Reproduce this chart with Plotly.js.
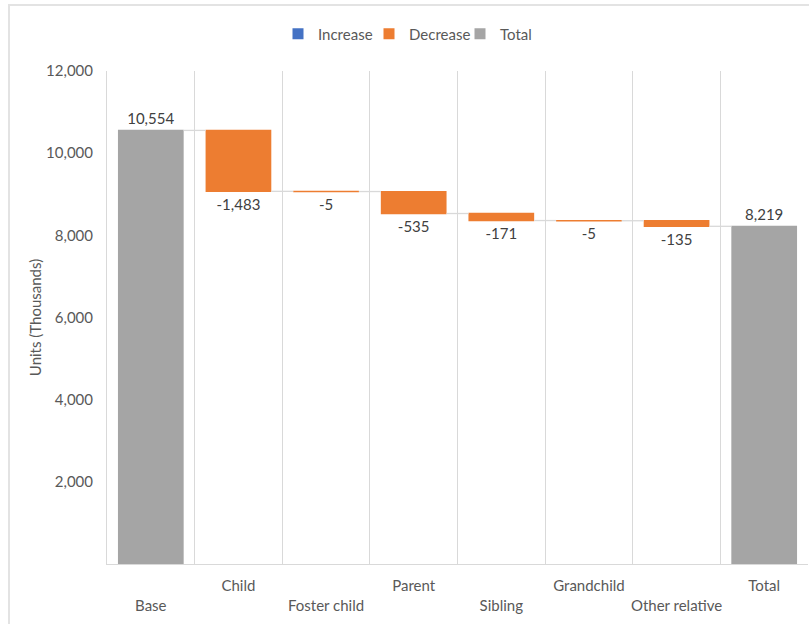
<!DOCTYPE html>
<html>
<head>
<meta charset="utf-8">
<script src="https://cdn.plot.ly/plotly-3.0.1.min.js"></script>
<style>
  html, body { margin: 0; padding: 0; overflow: hidden; background: #fff; }
  #chart { position: absolute; left: 0; top: 0; width: 809px; height: 624px; }
  #frame { position: absolute; left: 8px; top: 4px; width: 900px; height: 700px;
           border: 2px solid #e3e3e3; pointer-events: none; }
</style>
</head>
<body>
<div id="chart"></div>
<div id="frame"></div>
<script>
// ---- data ----
const categories = ["Base", "Child", "Foster child", "Parent", "Sibling", "Grandchild", "Other relative", "Total"];
const values = [10554, -1483, -5, -535, -171, -5, -135, 8219];
const measures = ["absolute", "relative", "relative", "relative", "relative", "relative", "relative", "absolute"];
const legendNames = ["Increase", "Decrease", "Total"];
const legendColors = ["#4472C4", "#ED7D31", "#A5A5A5"];
const yTicks = [2000, 4000, 6000, 8000, 10000, 12000];

const labels = values.map(v => v.toLocaleString("en-US"));
// staggered tick labels like the original (every other label pushed down a row)
const tickText = categories.map((c, i) => (i % 2 === 0 ? "<br>" + c : c));

const FONT = "Lato, 'Open Sans', sans-serif";

const traces = [{
  type: "waterfall",
  x: categories,
  y: values,
  measure: measures,
  text: labels,
  textinfo: "text",
  textposition: "outside",
  textfont: { family: FONT, size: 15, color: "#404040" },
  cliponaxis: false,
  increasing: { marker: { color: legendColors[0] } },
  decreasing: { marker: { color: legendColors[1] } },
  totals: { marker: { color: legendColors[2] } },
  connector: { mode: "between", line: { color: "#d9d9d9", width: 1.3 } },
  showlegend: false,
  hoverinfo: "x+y"
}];

legendNames.forEach((n, i) => {
  traces.push({
    type: "scatter",
    mode: "markers",
    x: [null], y: [null],
    name: n,
    marker: { symbol: "square", size: 11, color: legendColors[i] },
    showlegend: true,
    hoverinfo: "skip"
  });
});

const layout = {
  width: 809,
  height: 624,
  margin: { l: 107, r: 1, t: 71, b: 60 },
  paper_bgcolor: "#ffffff",
  plot_bgcolor: "#ffffff",
  font: { family: FONT, size: 15, color: "#595959" },
  waterfallgap: 0.25,
  showlegend: true,
  legend: {
    orientation: "h",
    xref: "container", yref: "container",
    x: 278 / 809, xanchor: "left",
    y: 1 - 34 / 624, yanchor: "middle",
    font: { family: FONT, size: 15, color: "#595959" },
    itemwidth: 30,
    entrywidth: 46,
    tracegroupgap: 0
  },
  xaxis: {
    type: "category",
    categoryorder: "array",
    categoryarray: categories,
    tickmode: "array",
    tickvals: categories,
    ticktext: tickText,
    tickangle: 0,
    tickson: "boundaries",
    ticks: "",
    showgrid: true,
    gridcolor: "#d9d9d9",
    gridwidth: 1,
    showline: true,
    linecolor: "#d9d9d9",
    linewidth: 1,
    ticklabelstandoff: 8,
    tickfont: { family: FONT, size: 15, color: "#595959" },
    automargin: false,
    fixedrange: true
  },
  yaxis: {
    range: [0, 12000],
    tickmode: "array",
    tickvals: yTicks,
    tickformat: ",",
    showgrid: false,
    zeroline: false,
    showline: true,
    linecolor: "#d9d9d9",
    linewidth: 1,
    ticks: "",
    ticklabelstandoff: 10,
    tickfont: { family: FONT, size: 15, color: "#595959" },
    title: { text: "Units (Thousands)", standoff: 0, font: { family: FONT, size: 15, color: "#595959" } },
    automargin: false,
    fixedrange: true
  }
};

Plotly.newPlot("chart", traces, layout, { displayModeBar: false, staticPlot: true });
</script>
</body>
</html>
